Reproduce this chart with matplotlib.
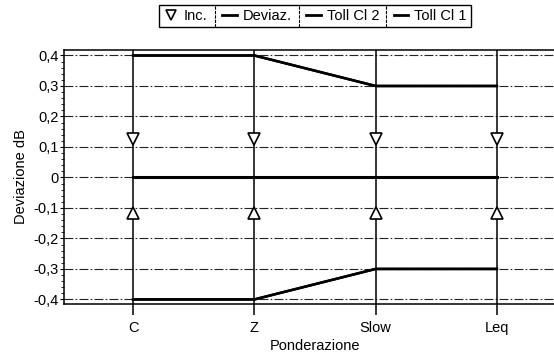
import matplotlib

matplotlib.use("Agg")
import matplotlib.pyplot as plt
from matplotlib.lines import Line2D
from matplotlib.ticker import FixedLocator, FuncFormatter, MultipleLocator

plt.rcParams["font.family"] = ["Liberation Sans", "DejaVu Sans"]

# ── dati ─────────────────────────────────────────────────────────────────────
categories = ["C", "Z", "Slow", "Leq"]
deviaz = [0.0, 0.0, 0.0, 0.0]
inc_sup = [0.125, 0.125, 0.125, 0.125]
inc_inf = [-0.115, -0.115, -0.115, -0.115]
toll_cl2_sup = [0.4, 0.4, 0.3, 0.3]
toll_cl2_inf = [-0.4, -0.4, -0.3, -0.3]
toll_cl1_sup = [0.4, 0.4, 0.3, 0.3]
toll_cl1_inf = [-0.4, -0.4, -0.3, -0.3]
y_ticks = [-0.4, -0.3, -0.2, -0.1, 0.0, 0.1, 0.2, 0.3, 0.4]

xs = list(range(len(categories)))

fig = plt.figure(figsize=(5.54, 3.53), dpi=100)
ax = fig.add_axes([64 / 554, 49 / 353, 502 / 554, 254 / 353])

# griglia orizzontale tratteggiata
for yv in y_ticks:
    ax.axhline(yv, color="#222", lw=0.8, ls=(0, (8, 2, 1.5, 2)), zorder=1)

# verticali sulle ponderazioni
for x in xs:
    ax.axvline(x, color="black", lw=1.1, zorder=2)

ax.plot(xs, toll_cl2_sup, color="black", lw=1.8, zorder=3)
ax.plot(xs, toll_cl2_inf, color="black", lw=1.8, zorder=3)
ax.plot(xs, toll_cl1_sup, color="black", lw=1.8, zorder=3)
ax.plot(xs, toll_cl1_inf, color="black", lw=1.8, zorder=3)
ax.plot(xs, deviaz, color="black", lw=2.2, zorder=3)
ax.plot(xs, inc_sup, ls="none", marker="v", ms=8, mfc="white", mec="black", mew=1.2, zorder=4)
ax.plot(xs, inc_inf, ls="none", marker="^", ms=8, mfc="white", mec="black", mew=1.2, zorder=4)

ax.set_xlim(-0.57, 3.57)
ax.set_ylim(-0.415, 0.418)
ax.xaxis.set_major_locator(FixedLocator(xs))
ax.set_xticklabels(categories)
ax.yaxis.set_major_locator(FixedLocator(y_ticks))
ax.yaxis.set_minor_locator(MultipleLocator(0.02))
ax.yaxis.set_major_formatter(
    FuncFormatter(lambda v, _: "0" if abs(v) < 1e-9 else f"{v:.1f}".replace(".", ","))
)
ax.tick_params(axis="x", length=8, width=1.1, pad=4, labelsize=10.5)
ax.tick_params(axis="y", which="major", length=3, width=0.8, pad=1, labelsize=10.5)
ax.tick_params(axis="y", which="minor", length=2, width=0.6)
for side in ("left", "top", "bottom"):
    ax.spines[side].set_linewidth(1.1)
ax.spines["right"].set_visible(False)

ax.set_xlabel("Ponderazione", fontsize=10.5, labelpad=3)
ax.set_ylabel("Deviazione dB", fontsize=10.5, labelpad=4)

handles = [
    Line2D([], [], ls="none", marker="v", ms=7, mfc="white", mec="black", mew=1.2),
    Line2D([], [], color="black", lw=2),
    Line2D([], [], color="black", lw=2),
    Line2D([], [], color="black", lw=2),
]
leg = fig.legend(
    handles,
    ["Inc.", "Deviaz.", "Toll Cl 2", "Toll Cl 1"],
    loc="center",
    bbox_to_anchor=(315 / 554, 1 - 16 / 353),
    ncol=4,
    frameon=True,
    fancybox=False,
    edgecolor="black",
    framealpha=1,
    fontsize=10.5,
    handlelength=1.0,
    handletextpad=0.4,
    columnspacing=1.0,
    borderpad=0.3,
)
leg.get_frame().set_linewidth(1.0)

# separatori verticali tra le voci della legenda
fig.canvas.draw()
renderer = fig.canvas.get_renderer()
frame_bb = leg.get_frame().get_window_extent(renderer)
texts = leg.get_texts()
fsz = 10.5 * fig.dpi / 72
for i in range(len(texts) - 1):
    end_prev = texts[i].get_window_extent(renderer).x1
    start_next = texts[i + 1].get_window_extent(renderer).x0 - (1.0 + 0.4) * fsz
    xm = (end_prev + start_next) / 2 / fig.bbox.width
    fig.add_artist(
        Line2D(
            [xm, xm],
            [frame_bb.y0 / fig.bbox.height, frame_bb.y1 / fig.bbox.height],
            transform=fig.transFigure,
            color="black",
            lw=0.8,
            ls=(0, (3, 1)),
            zorder=10,
        )
    )

fig.savefig("out.png", dpi=100)
